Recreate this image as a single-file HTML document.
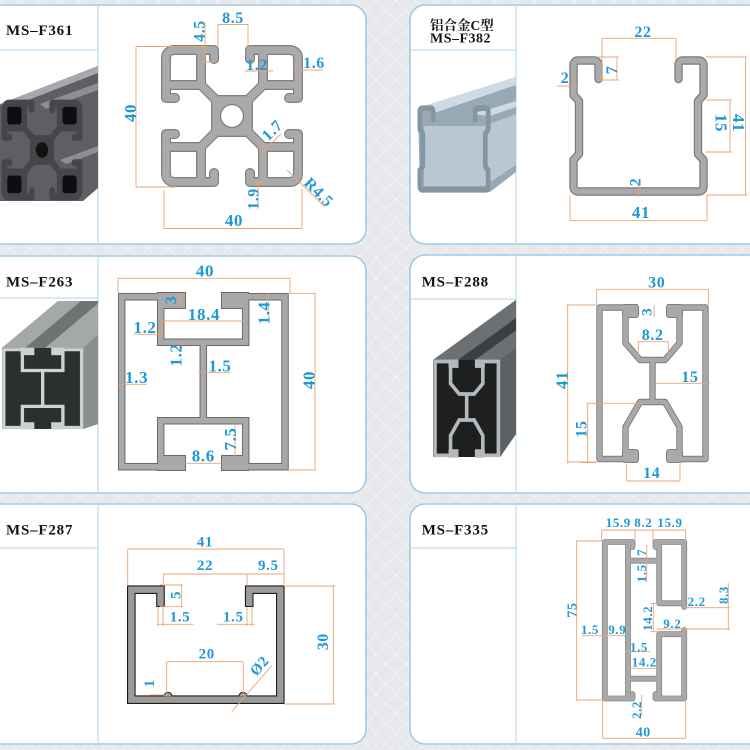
<!DOCTYPE html>
<html><head><meta charset="utf-8"><title>Aluminium profiles</title>
<style>
html,body{margin:0;padding:0;background:#e8e9ec;width:750px;height:750px;overflow:hidden}
svg{display:block}
.t{font-family:"Liberation Serif","Noto Serif CJK SC",serif;font-weight:bold;fill:#141414}
.d{font-family:"Liberation Serif",serif;font-weight:bold;fill:#1f98d6;text-anchor:middle;letter-spacing:0.6px}
.l{stroke:#eba374;stroke-width:0.9;fill:none}
</style></head><body>
<svg width="750" height="750" viewBox="0 0 750 750" xmlns="http://www.w3.org/2000/svg" xmlns:xlink="http://www.w3.org/1999/xlink">
<defs>
<pattern id="bg" width="14" height="14" patternUnits="userSpaceOnUse" patternTransform="rotate(45)">
<rect width="14" height="14" fill="#e7e8eb"/>
<path d="M0,0.5H14M0.5,0V14" stroke="#eff0f2" stroke-width="1.5"/>
</pattern>
<g id="q361" fill="none">
<path d="M-18,-57V-66H-58A8,8 0 0 0 -66,-58V-18H-57"/>
<path d="M-31,-66V-31H-66"/>
<path d="M-31,-31L-17,-17"/>
</g>
<g id="p361">
<use href="#q361"/><use href="#q361" transform="rotate(90)"/><use href="#q361" transform="rotate(180)"/><use href="#q361" transform="rotate(270)"/>
<rect x="-16" y="-16" width="32" height="32"/>
</g>
<path id="c382" fill="none" d="M598.5,79V65A4.5,4.5 0 0 0 594,60.5H578A4.5,4.5 0 0 0 573.5,65V95L579,101V154L573.5,160V187A4.5,4.5 0 0 0 578,191.5H699A4.5,4.5 0 0 0 703.5,187V160L698,154V101L703.5,95V65A4.5,4.5 0 0 0 699,60.5H683A4.5,4.5 0 0 0 678.5,65V79"/>
<g id="g263">
<path fill="none" d="M185,296.7H121.7V466.7H185M222,296.7H285V466.7H222M160.7,296.7V342.3H245.7V296.7M160.7,466.7V420.7H245.7V466.7M203.3,342.3V420.7"/>
<rect x="160.75" y="295.75" width="21.5" height="9.5"/>
<rect x="224.75" y="295.75" width="20.5" height="9.5"/>
<rect x="160.75" y="458.75" width="21.5" height="8.5"/>
<rect x="224.75" y="458.75" width="20.5" height="8.5"/>
</g>
<g id="g288">
<path fill="none" d="M638,307.5H599.5V459H638M667,307.5H705.5V459H667M625.5,307.5V343L640,360H665L679.5,343V307.5M652.5,360V402M625.5,459V427L640,402H665L679.5,427V459"/>
<rect x="625.2" y="307.2" width="10.6" height="7.6"/>
<rect x="669.2" y="307.2" width="10.6" height="7.6"/>
<rect x="625.2" y="452.2" width="10.6" height="7.6"/>
<rect x="669.2" y="452.2" width="10.6" height="7.6"/>
</g>
<g id="g335" fill="none">
<path d="M632.5,547V542H604.8V698.5H632.5V694"/>
<path d="M628,542V698.5"/>
<path d="M628,560.7H659.2M628,678.7H659.2"/>
<path d="M655.5,547V542H684.2V607"/>
<path d="M659.2,542V603.3H684.2"/>
<path d="M684.2,630V698.5H655.5V694"/>
<path d="M659.2,698.5V634.2H684.2"/>
</g>
</defs>

<rect width="750" height="750" fill="url(#bg)"/>

<!-- panels -->
<g fill="#fff" stroke="#9fcbe6" stroke-width="1.6">
<rect x="-20" y="5" width="386" height="239" rx="15"/>
<rect x="410" y="5" width="360" height="239" rx="15"/>
<rect x="-20" y="256" width="386" height="237" rx="15"/>
<rect x="410" y="255" width="360" height="238" rx="15"/>
<rect x="-20" y="504" width="386" height="240" rx="15"/>
<rect x="410" y="504" width="360" height="240" rx="15"/>
</g>
<g stroke="#bedcef" stroke-width="1.2" fill="none">
<path d="M98,6V243M0,50H98M98,257V492M0,298H98M98,505V743M0,548H98"/>
<path d="M516,6V243M411,50H516M516,256V492M411,299H516M516,505V743M411,548H516"/>
</g>

<!-- titles -->
<text class="t" x="6" y="35" font-size="15" letter-spacing="0.8">MS–F361</text>
<text class="t" x="430" y="30" font-size="13.5">铝合金C型</text>
<text class="t" x="430" y="42.7" font-size="14" letter-spacing="0.5">MS–F382</text>
<text class="t" x="6" y="286.7" font-size="15" letter-spacing="0.8">MS–F263</text>
<text class="t" x="421.7" y="286.7" font-size="15" letter-spacing="0.8">MS–F288</text>
<text class="t" x="6" y="534.3" font-size="15" letter-spacing="0.8">MS–F287</text>
<text class="t" x="421.7" y="534.3" font-size="15" letter-spacing="0.8">MS–F335</text>

<!-- photo F361 -->
<g>
<polygon points="0,104 98,66 98,188 83,201 0,201" fill="#5e5f64"/>
<polygon points="0,104 98,66 98,73 10,107" fill="#a6a8ad"/>
<polygon points="40,104 98,83 98,90 46,109" fill="#8c8e93"/>
<polygon points="60,160 98,146 98,152 66,164" fill="#8c8e93"/>
<g transform="translate(42,150) scale(0.57,0.71)" stroke-linejoin="round" stroke-linecap="round">
<use href="#p361" stroke="#45464b" stroke-width="10" fill="#45464b"/>
<g fill="#0e0e10">
<rect x="-61" y="-61" width="25" height="25" rx="4"/>
<rect x="36" y="-61" width="25" height="25" rx="4"/>
<rect x="-61" y="36" width="25" height="25" rx="4"/>
<rect x="36" y="36" width="25" height="25" rx="4"/>
</g>
<circle r="11" fill="#111"/>
</g>
</g>

<!-- photo F382 -->
<g>
<polygon points="418,108 516,77 516,172 490,192 420,192" fill="#98a9b6"/>
<polygon points="424,126 484,126 516,114 516,165 484,186 424,186" fill="#b9c7d2"/>
<polygon points="418,108 516,77 516,85 437,112" fill="#cfdae2"/>
<polygon points="470,114 490,109 516,101 516,107 490,116" fill="#cfdae2"/>
<use href="#c382" transform="translate(118.5,70.5) scale(0.5255,0.623)" stroke="#8496a4" stroke-width="9" stroke-linejoin="round" stroke-linecap="round"/>
</g>

<!-- photo F263 -->
<g>
<polygon points="2,348 58,301 98,301 98,424 83,429 2,429" fill="#7d8181"/>
<polygon points="2,348 83,348 98,335 98,301 58,301" fill="#a4a8a8"/>
<polygon points="25,348 45,348 98,303.5 98,301 81,301" fill="#6f7373"/>
<polygon points="83,348 98,335 98,424 83,429" fill="#8a8e8e"/>
<rect x="2" y="348" width="81" height="81" fill="#2c2f2f"/>
<use href="#g263" transform="translate(-54.2,213.9) scale(0.4765,0.4576)" stroke="#cdd1d1" stroke-width="7" fill="#cdd1d1"/>
</g>

<!-- photo F288 -->
<g>
<polygon points="433,360 516,300 516,434 500,457 433,457" fill="#4f5254"/>
<polygon points="433,360 500,360 516,348 516,300" fill="#6c7073"/>
<polygon points="458,360 475,360 516,330.4 516,318" fill="#3c3f41"/>
<polygon points="500,360 516,348 516,434 500,457" fill="#5d6163"/>
<rect x="433" y="360" width="67" height="97" fill="#1e1f21"/>
<use href="#g288" transform="translate(76.7,171.2) scale(0.5977,0.619)" stroke="#b5b9bc" stroke-width="6" fill="#b5b9bc"/>
</g>

<!-- F361 drawing -->
<g transform="translate(232,116)" stroke-linejoin="round" stroke-linecap="round">
<use href="#p361" stroke="#7f7f7f" stroke-width="10" fill="#7f7f7f"/>
<use href="#p361" stroke="#aaaaaa" stroke-width="7.6" fill="#aaaaaa"/>
<circle r="11.5" fill="#fff" stroke="#7f7f7f" stroke-width="1.3"/>
</g>
<path class="l" d="M136,46.5H207M136,187H176M136,46.5V187M164,190V229M302,189V229M164,228.5H302M218,24.5V48M248,24.5V48M218,24.5H248M205,22V63M205,62H216M245,71H273M295,70H323M262,152L281,134M258,182V206M255,182H264M287,170L325,207"/>
<text class="d" font-size="17" transform="translate(130,113) rotate(-90)" y="6">40</text>
<text class="d" font-size="17" x="234" y="226">40</text>
<text class="d" font-size="16" x="233" y="23">8.5</text>
<text class="d" font-size="16" transform="translate(199,31) rotate(-90)" y="5.5">4.5</text>
<text class="d" font-size="16" x="257" y="70">1.2</text>
<text class="d" font-size="16" x="314" y="68">1.6</text>
<text class="d" font-size="16" transform="translate(272,130) rotate(-45)" y="5.5">1.7</text>
<text class="d" font-size="16" transform="translate(253,199) rotate(-90)" y="5.5">1.9</text>
<text class="d" font-size="16" transform="translate(319,192) rotate(45)" y="5.5">R4.5</text>

<!-- F382 drawing -->
<g stroke-linejoin="round" stroke-linecap="round">
<use href="#c382" stroke="#7a7a7a" stroke-width="8.4"/>
<use href="#c382" stroke="#aaaaaa" stroke-width="6"/>
</g>
<path class="l" d="M602,38.3H676M602,38.3V80M676,38.3V60M617,57V80M598,57H619M598,80H619M557,86H578M730,100V152M706,100H732M706,152H732M745.5,57V195M706,57H747M706,195H747M638.3,185V197M570,220.7H707M570,195V221M707,195V221"/>
<text class="d" font-size="16" x="643" y="37">22</text>
<text class="d" font-size="16" transform="translate(611.7,70) rotate(-90)" y="5.5">7</text>
<text class="d" font-size="16" x="565" y="83">2</text>
<text class="d" font-size="17" transform="translate(721.7,123) rotate(90)" y="6">15</text>
<text class="d" font-size="17" transform="translate(739,123) rotate(90)" y="6">41</text>
<text class="d" font-size="16" transform="translate(635,182) rotate(-90)" y="5.5">2</text>
<text class="d" font-size="17" x="641" y="218">41</text>

<!-- F263 drawing -->
<use href="#g263" stroke="#6a6a6a" stroke-width="7.5" fill="#6a6a6a"/>
<use href="#g263" stroke="#a9a9a9" stroke-width="5.5" fill="#a9a9a9"/>
<path class="l" d="M118,278.3H290M118,278.3V293M290,278.3V293M180,293V308M163.3,321H245M268.3,293V316.7M133.3,334.3H163.3M162.3,320V337M181.7,340V349M198.3,372.7H230M117.3,384.3H146.7M315,293.3V470M288,293.3H316M288,470H316M235,423.3V456.7M185,463.3H221.7"/>
<text class="d" font-size="17" x="205" y="276.5">40</text>
<text class="d" font-size="16" transform="translate(170.7,300) rotate(-90)" y="5.5">3</text>
<text class="d" font-size="17" x="204" y="320">18.4</text>
<text class="d" font-size="17" transform="translate(263.3,313) rotate(-90)" y="6">1.4</text>
<text class="d" font-size="17" x="145" y="333">1.2</text>
<text class="d" font-size="17" transform="translate(175.7,355) rotate(-90)" y="6">1.2</text>
<text class="d" font-size="17" x="220" y="371.5">1.5</text>
<text class="d" font-size="17" x="136.7" y="383">1.3</text>
<text class="d" font-size="17" transform="translate(308.3,380) rotate(-90)" y="6">40</text>
<text class="d" font-size="17" transform="translate(230,439) rotate(-90)" y="6">7.5</text>
<text class="d" font-size="17" x="203.3" y="461.5">8.6</text>

<!-- F288 drawing -->
<g stroke-linejoin="round">
<use href="#g288" stroke="#7a7a7a" stroke-width="6.4" fill="#7a7a7a"/>
<use href="#g288" stroke="#a9a9a9" stroke-width="4.6" fill="#a9a9a9"/>
</g>
<path class="l" d="M596.7,289.3H709M596.7,289.3V305M708.3,289.3V305M567.7,304.3V463.3M567,305H597M567,462H597M654,305V317M638.3,341.7H668.3M638.3,341.7V358M668.3,341.7V358M655,383.3H710M587.7,403.3V463.3M586.7,403.3H645M580,462.5H597M626.7,481H680M626.7,462V481M680,462V481"/>
<text class="d" font-size="16" x="656.7" y="287.5">30</text>
<text class="d" font-size="17" transform="translate(561.7,380) rotate(-90)" y="6">41</text>
<text class="d" font-size="15" transform="translate(646.7,311.7) rotate(-90)" y="5">3</text>
<text class="d" font-size="16" x="652.7" y="340">8.2</text>
<text class="d" font-size="16" x="690" y="382">15</text>
<text class="d" font-size="16" transform="translate(581,429) rotate(-90)" y="5.5">15</text>
<text class="d" font-size="16" x="651.7" y="478">14</text>

<!-- F287 drawing -->
<path d="M160.5,607V589.7H131.3V699.7H280.3V589.7H249.2V607" fill="none" stroke="#1c1c1c" stroke-width="8.6"/>
<path d="M160.5,606V589.7H131.3V699.7H280.3V589.7H249.2V606" fill="none" stroke="#9b9b9b" stroke-width="6.4"/>
<path d="M164,696.3A4,4 0 0 1 172,696.3M239,696.3A4,4 0 0 1 247,696.3" fill="#9b9b9b" stroke="#1c1c1c" stroke-width="1"/>
<path class="l" d="M127.7,549H284M127.7,549V586M284,549V586M163.3,574H284M163.3,574V586M247,574V586M181.7,585V606.7M160,585H183M160,606.7H183M156.7,624.3H193.3M158,607V626M163,607V626M216.7,624.3H255M247,607V626M252,607V626M166.7,661.7H243.3M166.7,661.7V695M243.3,661.7V695M231.7,711.7L271.7,665.7M150,695H168M333.3,585V704.3M284,586H335M284,704H335"/>
<text class="d" font-size="15" x="205" y="546.5">41</text>
<text class="d" font-size="15" x="205" y="570">22</text>
<text class="d" font-size="15" x="268.3" y="570">9.5</text>
<text class="d" font-size="15" transform="translate(175.7,595) rotate(-90)" y="5">5</text>
<text class="d" font-size="15" x="180" y="621.5">1.5</text>
<text class="d" font-size="15" x="233.3" y="621.5">1.5</text>
<text class="d" font-size="15" x="206.7" y="658.3">20</text>
<text class="d" font-size="15" transform="translate(259.3,665.7) rotate(-50)" y="5">Ø2</text>
<text class="d" font-size="15" transform="translate(149,683.3) rotate(-90)" y="5">1</text>
<text class="d" font-size="16" transform="translate(322.7,641.7) rotate(-90)" y="5.5">30</text>

<!-- F335 drawing -->
<g stroke-linejoin="round" stroke-linecap="round">
<use href="#g335" stroke="#808080" stroke-width="5.8"/>
<use href="#g335" stroke="#a9a9a9" stroke-width="4.4"/>
</g>
<path class="l" d="M601.7,530H685.7M601.7,530V541M635,530V541M653,530V541M685.7,530V541M576.7,541V700M576,541H603M576,700H603M646.7,545V582M653.3,603.3V631.7M650,603.3H660M650,631.7H660M683.3,607.7H730M657,629H730M728.3,583.3V630M581.7,635.7H625M625.7,651.7H650M628.3,668.3H658.3M641.7,695V716M602.7,738.3H685.7M602.7,700V738.3M685.7,700V738.3"/>
<text class="d" font-size="13" x="618.3" y="527">15.9</text>
<text class="d" font-size="13" x="643.3" y="527">8.2</text>
<text class="d" font-size="13" x="670" y="527">15.9</text>
<text class="d" font-size="14" transform="translate(571.7,610) rotate(-90)" y="5">75</text>
<text class="d" font-size="13" transform="translate(641.7,552.3) rotate(-90)" y="4.5">7</text>
<text class="d" font-size="13" transform="translate(641.7,573.3) rotate(-90)" y="4.5">1.5</text>
<text class="d" font-size="13" transform="translate(647.7,618.3) rotate(-90)" y="4.5">14.2</text>
<text class="d" font-size="13" x="696.7" y="606">2.2</text>
<text class="d" font-size="13" transform="translate(723.3,595) rotate(-90)" y="4.5">8.3</text>
<text class="d" font-size="13" x="672.3" y="628">9.2</text>
<text class="d" font-size="13" x="590" y="634">1.5</text>
<text class="d" font-size="13" x="617.3" y="634">9.9</text>
<text class="d" font-size="13" x="639" y="651.5">1.5</text>
<text class="d" font-size="13" x="644.3" y="666.5">14.2</text>
<text class="d" font-size="13" transform="translate(636.7,710) rotate(-90)" y="4.5">2.2</text>
<text class="d" font-size="14" x="643.3" y="736.5">40</text>
</svg>
</body></html>
